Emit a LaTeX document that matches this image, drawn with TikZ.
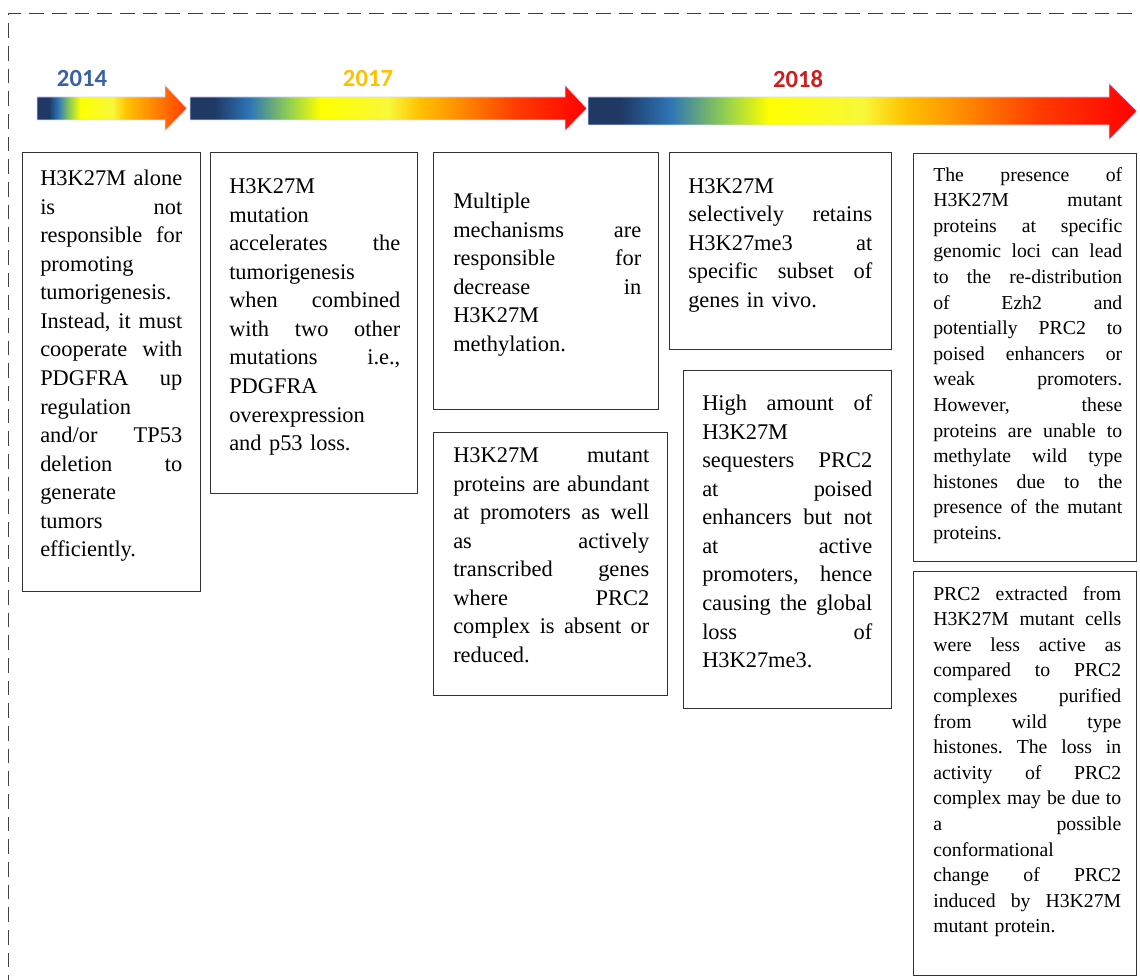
\documentclass[tikz,border=0pt]{standalone}
\usepackage{fontspec}
\setmainfont{Liberation Serif}
\newfontfamily\bodyfont{Liberation Serif}
\newfontfamily\yearfont{Carlito}
\newlength\pxu
\setlength\pxu{0.75pt}
\definecolor{navyA}{HTML}{1F3864}
\definecolor{blueA}{HTML}{2E75B6}
\definecolor{greenA}{HTML}{92D050}
\definecolor{yellowA}{HTML}{FFFF00}
\definecolor{yellowB}{HTML}{F8F83A}
\definecolor{orangeA}{HTML}{FFC000}
\definecolor{orangeB}{HTML}{FF8C00}
\definecolor{redA}{HTML}{FF3C00}
\definecolor{redB}{HTML}{FF0000}
\definecolor{yr14}{HTML}{3A60A6}
\definecolor{yr17}{HTML}{FFC000}
\definecolor{yr18}{HTML}{CC1F1F}
\definecolor{boxline}{HTML}{333333}
\pgfdeclarehorizontalshading{tlshade}{100bp}{color(0bp)=(navyA); color(25bp)=(navyA); color(28bp)=(navyA);
  color(32.5bp)=(blueA); color(37.5bp)=(greenA); color(41.5bp)=(yellowA); color(50bp)=(yellowB);
  color(54bp)=(orangeA); color(59bp)=(orangeB); color(66bp)=(redA); color(75bp)=(redB); color(100bp)=(redB)}
\pgfdeclarehorizontalshading{tlshadeA}{100bp}{color(0bp)=(navyA); color(25bp)=(navyA); color(29bp)=(navyA);
  color(32bp)=(blueA); color(36bp)=(greenA); color(39.5bp)=(yellowA); color(50bp)=(yellowB);
  color(55bp)=(orangeA); color(63bp)=(orangeB); color(75bp)=(redA); color(100bp)=(redA)}
\newcommand\J[1]{\leavevmode\hbox to\hsize{#1}}
\tikzset{
  box/.style={draw=boxline, line width=1.1pt, anchor=north west, inner sep=0pt},
  txt/.style={anchor=north west, inner sep=0pt, align=left, font=\bodyfont\fontsize{16.8}{21.4}\selectfont},
  txts/.style={anchor=north west, inner sep=0pt, align=left, font=\bodyfont\fontsize{14.8}{19.2}\selectfont},
  year/.style={font=\yearfont\bfseries\fontsize{18.5}{20}\selectfont, inner sep=0pt},
  tlarrow/.style={draw=blue!15, line width=0.6pt},
  frame/.style={draw=black!75, line width=1pt, dash pattern=on 11pt off 6pt}
}
\begin{document}
\begin{tikzpicture}[x=0.75pt, y=-0.75pt]
\useasboundingbox (0,0) rectangle (1140,980);
\clip (0,0) rectangle (1140,980);
% frame
\draw[frame] (8.5,990) -- (8.5,13.5) -- (1150,13.5);
% timeline arrows
\shade[shading=tlshadeA, tlarrow] (37,97) -- (165,97) -- (165,85) -- (187,108.5) -- (165,131) -- (165,120) -- (37,120) -- cycle;
\shade[shading=tlshade, tlarrow] (190,97) -- (565,97) -- (565,85) -- (587,108.5) -- (565,131) -- (565,120) -- (190,120) -- cycle;
\shade[shading=tlshade, tlarrow] (588,97) -- (1109,97) -- (1109,83) -- (1137,111) -- (1109,140) -- (1109,125) -- (588,125) -- cycle;
% years
\node[year, text=yr14] (y14) at (82,79) {2014};
\node[year, text=yr17] (y17) at (368,79) {2017};
\node[year, text=yr18] (y18) at (798,79) {2018};
% boxes
\node[box, minimum width=178\pxu, minimum height=439\pxu] (bA) at (22,152) {};
\node[box, minimum width=207\pxu, minimum height=341\pxu] (bB) at (210,152) {};
\node[box, minimum width=225\pxu, minimum height=257\pxu] (bC) at (433,152) {};
\node[box, minimum width=234\pxu, minimum height=263\pxu] (bD) at (433,432) {};
\node[box, minimum width=222\pxu, minimum height=197\pxu] (bE) at (669,152) {};
\node[box, minimum width=208\pxu, minimum height=338\pxu] (bF) at (683,370) {};
\node[box, minimum width=223\pxu, minimum height=408\pxu] (bG) at (913,153) {};
\node[box, minimum width=223\pxu, minimum height=404\pxu] (bH) at (913,571) {};
% texts (top = first baseline - 0.7 baselineskip)
\node[txt, text width=142\pxu] (tA) at (40,165.5) {\strut\J{H3K27M\hfill alone}\\
\J{is\hfill not}\\
\J{responsible\hfill for}\\
promoting\\
tumorigenesis.\\
\J{Instead,\hfill it\hfill must}\\
\J{cooperate\hfill with}\\
\J{PDGFRA\hfill up}\\
regulation\\
\J{and/or\hfill TP53}\\
\J{deletion\hfill to}\\
generate\\
tumors\\
efficiently.};
\node[txt, text width=171\pxu] (tB) at (229,173.5) {\strut H3K27M\\
mutation\\
\J{accelerates\hfill the}\\
tumorigenesis\\
\J{when\hfill combined}\\
\J{with\hfill two\hfill other}\\
\J{mutations\hfill i.e.,}\\
PDGFRA\\
overexpression\\
and p53 loss.};
\node[txt, text width=188\pxu] (tC) at (453,188.5) {\strut Multiple\\
\J{mechanisms\hfill are}\\
\J{responsible\hfill for}\\
\J{decrease\hfill in}\\
H3K27M\\
methylation.};
\node[txt, text width=196\pxu] (tD) at (453,442.5) {\strut\J{H3K27M\hfill mutant}\\
\J{proteins\hfill are\hfill abundant}\\
\J{at\hfill promoters\hfill as\hfill well}\\
\J{as\hfill actively}\\
\J{transcribed\hfill genes}\\
\J{where\hfill PRC2}\\
\J{complex\hfill is\hfill absent\hfill or}\\
reduced.};
\node[txt, text width=184\pxu] (tE) at (688,173) {\strut H3K27M\\
\J{selectively\hfill retains}\\
\J{H3K27me3\hfill at}\\
\J{specific\hfill subset\hfill of}\\
genes in vivo.};
\node[txt, text width=170\pxu] (tF) at (702,390.5) {\strut\J{High\hfill amount\hfill of}\\
H3K27M\\
\J{sequesters\hfill PRC2}\\
\J{at\hfill poised}\\
\J{enhancers\hfill but\hfill not}\\
\J{at\hfill active}\\
\J{promoters,\hfill hence}\\
\J{causing\hfill the\hfill global}\\
\J{loss\hfill of}\\
H3K27me3.};
\node[txts, text width=189\pxu] (tG) at (933,163) {\strut\J{The\hfill presence\hfill of}\\
\J{H3K27M\hfill mutant}\\
\J{proteins\hfill at\hfill specific}\\
\J{genomic\hfill loci\hfill can\hfill lead}\\
\J{to\hfill the\hfill re-distribution}\\
\J{of\hfill Ezh2\hfill and}\\
\J{potentially\hfill PRC2\hfill to}\\
\J{poised\hfill enhancers\hfill or}\\
\J{weak\hfill promoters.}\\
\J{However,\hfill these}\\
\J{proteins\hfill are\hfill unable\hfill to}\\
\J{methylate\hfill wild\hfill type}\\
\J{histones\hfill due\hfill to\hfill the}\\
\J{presence\hfill of\hfill the\hfill mutant}\\
proteins.};
\node[txts, text width=188\pxu] (tH) at (933,582) {\strut\J{PRC2\hfill extracted\hfill from}\\
\J{H3K27M\hfill mutant\hfill cells}\\
\J{were\hfill less\hfill active\hfill as}\\
\J{compared\hfill to\hfill PRC2}\\
\J{complexes\hfill purified}\\
\J{from\hfill wild\hfill type}\\
\J{histones.\hfill The\hfill loss\hfill in}\\
\J{activity\hfill of\hfill PRC2}\\
\J{complex\hfill may\hfill be\hfill due\hfill to}\\
\J{a\hfill possible}\\
conformational\\
\J{change\hfill of\hfill PRC2}\\
\J{induced\hfill by\hfill H3K27M}\\
mutant protein.};
\end{tikzpicture}
\end{document}
